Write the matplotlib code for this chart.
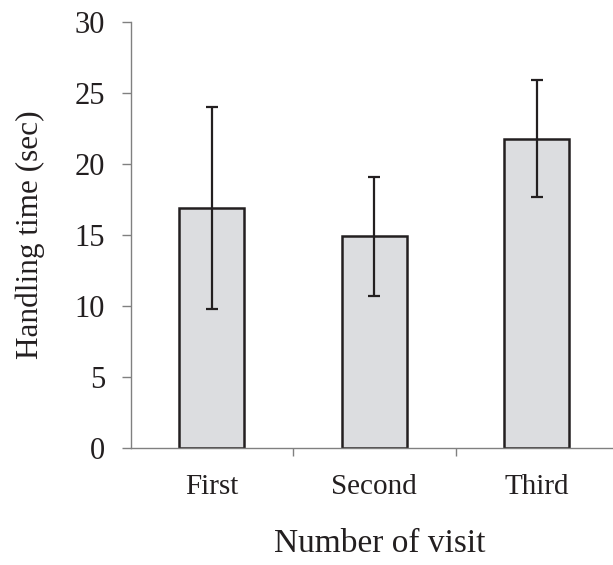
import matplotlib
matplotlib.use("Agg")
import matplotlib.pyplot as plt
from matplotlib.ticker import FixedLocator

plt.rcParams['font.family'] = ['Liberation Serif', 'DejaVu Serif']

categories = ["First", "Second", "Third"]
means = [16.9, 14.9, 21.8]
errors = [7.15, 4.2, 4.13]
y_ticks = [0, 5, 10, 15, 20, 25, 30]

bar_face = "#dcdde0"
ink = "#231f20"
axis_grey = "#808080"

fig = plt.figure(figsize=(6.13, 5.65), dpi=100)
ax = fig.add_axes([130.7 / 613, 1 - 447.7 / 565, (618 - 130.7) / 613, (447.7 - 22.3) / 565])

x = list(range(len(categories)))
ax.bar(x, means, width=0.40, color=bar_face, edgecolor=ink, linewidth=1.8, zorder=2)
ax.errorbar(x, means, yerr=errors, fmt='none', ecolor=ink, elinewidth=1.6,
            capsize=4.6, capthick=1.6, zorder=3)

ax.set_xlim(-0.5, 2.5)
ax.set_ylim(0, 30)
ax.set_yticks(y_ticks)
ax.set_yticklabels([str(t) for t in y_ticks])

ax.set_xticks(x)
ax.set_xticklabels(categories)
ax.xaxis.set_minor_locator(FixedLocator([0.5, 1.5]))

for side in ("top", "right"):
    ax.spines[side].set_visible(False)
for side in ("left", "bottom"):
    ax.spines[side].set_color(axis_grey)
    ax.spines[side].set_linewidth(1.0)

ax.tick_params(axis='y', which='major', length=6.5, width=1.0, color=axis_grey,
               pad=12, labelsize=22, labelcolor=ink, direction='out')
ax.tick_params(axis='x', which='major', length=0, pad=19, labelsize=21, labelcolor=ink)
ax.tick_params(axis='x', which='minor', length=6, width=1.0, color=axis_grey, direction='out')

fig.text(38 / 613, 1 - 235 / 565, "Handling time (sec)", rotation=90,
         rotation_mode='anchor', ha='center', va='baseline', fontsize=22.5, color=ink)
fig.text(380 / 613, 1 - 552 / 565, "Number of visit", ha='center', va='baseline',
         fontsize=24, color=ink)

fig.savefig("out.png", dpi=100)
